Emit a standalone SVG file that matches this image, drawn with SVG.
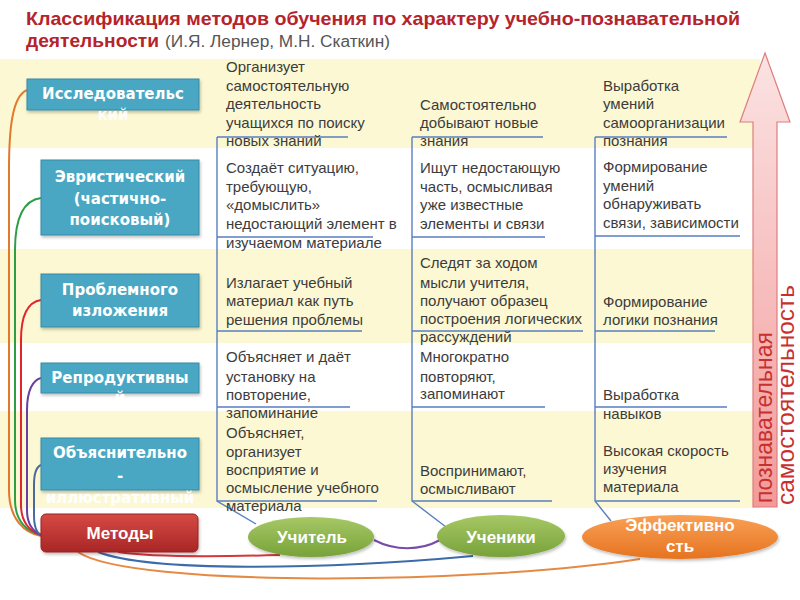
<svg xmlns="http://www.w3.org/2000/svg" width="800" height="600" viewBox="0 0 800 600">
<defs>
<style>
.band{fill:#FCF8D3}
.title{font-family:"Liberation Sans",Arial,sans-serif;font-weight:bold;fill:#B5232B}
.sub{font-family:"Liberation Sans",Arial,sans-serif;fill:#555555}
.cell{font-family:"Liberation Sans",Arial,sans-serif;font-size:15px;fill:#3C3C3C}
.box{fill:#48A7C3;stroke:#3A8AA5;stroke-width:1}
.bt{font-family:"DejaVu Sans",Verdana,sans-serif;font-weight:bold;font-size:15px;fill:#FFFFFF;text-anchor:middle}
.et{font-family:"Liberation Sans",Arial,sans-serif;font-weight:bold;font-size:17px;fill:#FFFFFF;text-anchor:middle}
.col{fill:none;stroke:#5A7EC0;stroke-width:1.4}
.cv{fill:none;stroke-width:2}
.vt{font-family:"Liberation Sans",Arial,sans-serif;font-size:23px;fill:#C8302E}
</style>
<linearGradient id="gRed" x1="0" y1="0" x2="0" y2="1"><stop offset="0" stop-color="#D64A44"/><stop offset="1" stop-color="#A92626"/></linearGradient>
<linearGradient id="gGreen" x1="0" y1="0" x2="0" y2="1"><stop offset="0" stop-color="#A6C865"/><stop offset="1" stop-color="#78A23A"/></linearGradient>
<linearGradient id="gOrange" x1="0" y1="0" x2="0" y2="1"><stop offset="0" stop-color="#F9A055"/><stop offset="1" stop-color="#E57420"/></linearGradient>
<linearGradient id="gPink" x1="0" y1="0" x2="0" y2="1"><stop offset="0" stop-color="#FBE3E3"/><stop offset="1" stop-color="#F39A9A"/></linearGradient>
<filter id="sh" x="-20%" y="-20%" width="140%" height="150%"><feDropShadow dx="1" dy="2" stdDeviation="1.5" flood-color="#000" flood-opacity="0.25"/></filter>
</defs>
<rect width="800" height="600" fill="#FFFFFF"/>
<g id="bands">
<rect class="band" x="0" y="59" width="760" height="89"/>
<rect class="band" x="0" y="249" width="760" height="94"/>
<rect class="band" x="0" y="411" width="760" height="97"/>
</g>
<g id="title">
<text class="title" x="26" y="25" font-size="19" textLength="714" lengthAdjust="spacingAndGlyphs">Классификация методов обучения по характеру учебно-познавательной</text>
<text class="title" x="26" y="47" font-size="19" textLength="133" lengthAdjust="spacingAndGlyphs">деятельности</text>
<text class="sub" x="165" y="47" font-size="16" textLength="225" lengthAdjust="spacingAndGlyphs">(И.Я. Лернер, М.Н. Скаткин)</text>
</g>
<g id="arrow">
<path d="M765,53 L790,122 L777,122 L777,507 L753,507 L753,122 L740,122 Z" fill="url(#gPink)" stroke="#E07C7C" stroke-width="1.2"/>
<text class="vt" transform="translate(772,503) rotate(-90)">познавательная</text>
<text class="vt" transform="translate(794,505) rotate(-90)" textLength="220" lengthAdjust="spacingAndGlyphs">самостоятельность</text>
</g>
<g id="connectors">
<path class="cv" stroke="#E07B2E" d="M27,90 C12,96 9,130 9,170 L9,490 C9,520 25,533 41,536"/>
<path class="cv" stroke="#2E9E45" d="M41,198 C25,200 15,215 15,250 L15,500 C15,522 28,532 41,535"/>
<path class="cv" stroke="#E0262A" d="M41,300 C28,302 21,315 21,340 L21,505 C21,522 30,532 41,535"/>
<path class="cv" stroke="#6B3FA0" d="M41,378 C33,380 27,390 27,410 L27,510 C27,525 34,532 41,535"/>
<path class="cv" stroke="#4A6A9E" d="M41,465 C36,467 34,475 34,485 L34,515 C34,528 37,533 41,535"/>
<path class="cv" stroke="#D6363A" d="M118,552 C150,557 210,557 280,555"/>
<path class="cv" stroke="#3C6BAA" d="M98,552 C150,572 320,570 473,556"/>
<path class="cv" stroke="#E58A45" d="M78,552 C130,588 480,584 640,559"/>
<path class="cv" stroke="#7A4AA8" stroke-width="2.5" d="M374,540 C395,551 420,551 440,540"/>
<g id="col-teacher">
<path class="col" d="M217,137 L217,501 L256,524"/>
<path class="col" d="M217,137 H348 M217,237 H373 M217,331 H362 M217,407 H350 M217,501 H377"/>
</g>
<g id="col-students">
<path class="col" d="M412,137 L412,501 L446,527"/>
<path class="col" d="M412,137 H543 M412,237 H545 M412,331 H583 M412,407 H545 M412,501 H552"/>
</g>
<g id="col-effect">
<path class="col" d="M595,137 L595,501 L611,521"/>
<path class="col" d="M595,137 H727 M595,236 H740 M595,331 H715 M595,407 H727 M595,501 H740"/>
</g>
</g>
<g id="cells">
<text class="cell" x="226" y="72">Организует</text>
<text class="cell" x="226" y="91">самостоятельную</text>
<text class="cell" x="226" y="109">деятельность</text>
<text class="cell" x="226" y="128">учащихся по поиску</text>
<text class="cell" x="226" y="146">новых знаний</text>
<text class="cell" x="226" y="173">Создаёт ситуацию,</text>
<text class="cell" x="226" y="192">требующую,</text>
<text class="cell" x="226" y="210">«домыслить»</text>
<text class="cell" x="226" y="229">недостающий элемент в</text>
<text class="cell" x="226" y="248">изучаемом материале</text>
<text class="cell" x="226" y="288">Излагает учебный</text>
<text class="cell" x="226" y="306">материал как путь</text>
<text class="cell" x="226" y="325">решения проблемы</text>
<text class="cell" x="226" y="362">Объясняет и даёт</text>
<text class="cell" x="226" y="382">установку на</text>
<text class="cell" x="226" y="400">повторение,</text>
<text class="cell" x="226" y="418">запоминание</text>
<text class="cell" x="226" y="438">Объясняет,</text>
<text class="cell" x="226" y="457">организует</text>
<text class="cell" x="226" y="475">восприятие и</text>
<text class="cell" x="226" y="493">осмысление учебного</text>
<text class="cell" x="226" y="511">материала</text>
<text class="cell" x="420" y="110">Самостоятельно</text>
<text class="cell" x="420" y="128">добывают новые</text>
<text class="cell" x="420" y="146">знания</text>
<text class="cell" x="420" y="173">Ищут недостающую</text>
<text class="cell" x="420" y="192">часть, осмысливая</text>
<text class="cell" x="420" y="210">уже известные</text>
<text class="cell" x="420" y="229">элементы и связи</text>
<text class="cell" x="420" y="268">Следят за ходом</text>
<text class="cell" x="420" y="288">мысли учителя,</text>
<text class="cell" x="420" y="306">получают образец</text>
<text class="cell" x="420" y="324">построения логических</text>
<text class="cell" x="420" y="342">рассуждений</text>
<text class="cell" x="420" y="362">Многократно</text>
<text class="cell" x="420" y="382">повторяют,</text>
<text class="cell" x="420" y="399">запоминают</text>
<text class="cell" x="420" y="476">Воспринимают,</text>
<text class="cell" x="420" y="494">осмысливают</text>
<text class="cell" x="603" y="91">Выработка</text>
<text class="cell" x="603" y="109">умений</text>
<text class="cell" x="603" y="128">самоорганизации</text>
<text class="cell" x="603" y="146">познания</text>
<text class="cell" x="603" y="172">Формирование</text>
<text class="cell" x="603" y="191">умений</text>
<text class="cell" x="603" y="209">обнаруживать</text>
<text class="cell" x="603" y="228">связи, зависимости</text>
<text class="cell" x="603" y="307">Формирование</text>
<text class="cell" x="603" y="325">логики познания</text>
<text class="cell" x="603" y="400">Выработка</text>
<text class="cell" x="603" y="419">навыков</text>
<text class="cell" x="603" y="456">Высокая скорость</text>
<text class="cell" x="603" y="474">изучения</text>
<text class="cell" x="603" y="492">материала</text>
</g>
<g id="node-research">
<rect class="box" x="27" y="79" width="172" height="31" filter="url(#sh)"/>
<text class="bt" x="113" y="99">Исследовательс</text>
<text class="bt" x="113" y="120" fill-opacity="0.85">кий</text>
</g>
<g id="node-heuristic">
<rect class="box" x="41" y="160" width="158" height="75" filter="url(#sh)"/>
<text class="bt" x="120" y="182">Эвристический</text>
<text class="bt" x="120" y="204">(частично-</text>
<text class="bt" x="120" y="225">поисковый)</text>
</g>
<g id="node-problem">
<rect class="box" x="41" y="274" width="158" height="53" filter="url(#sh)"/>
<text class="bt" x="120" y="295">Проблемного</text>
<text class="bt" x="120" y="316">изложения</text>
</g>
<g id="node-reproductive">
<rect class="box" x="41" y="363" width="158" height="30" filter="url(#sh)"/>
<text class="bt" x="120" y="383">Репродуктивны</text>
<text class="bt" x="120" y="403">й</text>
</g>
<g id="node-explanatory">
<rect class="box" x="41" y="438" width="158" height="52" filter="url(#sh)"/>
<text class="bt" x="120" y="458">Объяснительно</text>
<text class="bt" x="120" y="481">-</text>
<text class="bt" x="120" y="503" font-size="14">иллюстративный</text>
</g>
<g id="node-methods">
<rect x="41" y="514" width="157" height="38" rx="5" fill="url(#gRed)" stroke="#9A2222" stroke-width="1" filter="url(#sh)"/>
<text class="et" x="120" y="539" font-size="18">Методы</text>
</g>
<g id="node-teacher">
<ellipse cx="311" cy="537" rx="63" ry="20" fill="url(#gGreen)" filter="url(#sh)"/>
<text class="et" x="312" y="543">Учитель</text>
</g>
<g id="node-students">
<ellipse cx="501" cy="536" rx="64" ry="21" fill="url(#gGreen)" filter="url(#sh)"/>
<text class="et" x="501" y="543">Ученики</text>
</g>
<g id="node-efficiency">
<ellipse cx="680" cy="537" rx="98" ry="22" fill="url(#gOrange)" filter="url(#sh)"/>
<text class="et" x="680" y="531">Эффективно</text>
<text class="et" x="680" y="552">сть</text>
</g>
</svg>
